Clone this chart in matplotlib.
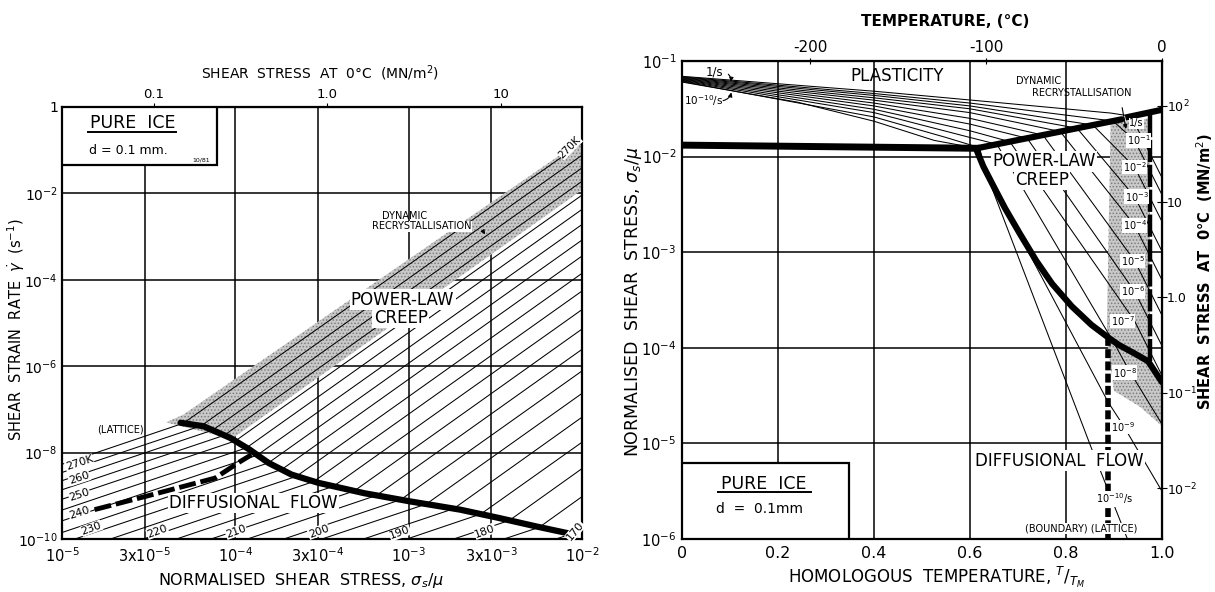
import numpy as np
import matplotlib.pyplot as plt
from matplotlib.patches import Rectangle, Polygon
from matplotlib.ticker import NullLocator

plt.rcParams['font.family'] = ['DejaVu Sans']
plt.rcParams['mathtext.fontset'] = 'dejavusans'
plt.rcParams['hatch.linewidth'] = 0.7

MU = 2950.0   # shear modulus of ice, MN/m^2 (stress at 0 C = mu * sigma/mu)
TM = 273.0    # melting point, K

# ---------------- left map: strain rate vs normalised stress (log10 values) ----------------
iso_T = [270, 265, 260, 255, 250, 245, 240, 235, 230, 225, 220,
         215, 210, 205, 200, 195, 190, 185, 180, 175, 170]
# where each isotherm leaves the frame in the diffusional field
iso_lo_s = [-5, -5, -5, -5, -5, -5, -5, -5, -4.925, -4.72, -4.53,
            -4.34, -4.14, -3.93, -3.72, -3.50, -3.26, -3.01, -2.74, -2.45, -2.15]
iso_lo_r = [-8.27, -8.46, -8.65, -8.86, -9.08, -9.33, -9.58, -9.85, -10, -10, -10,
            -10, -10, -10, -10, -10, -10, -10, -10, -10, -10]
# knee on the power-law / diffusional-flow boundary
iso_kn_s = [-4.30, -4.197, -4.131, -4.064, -4.0, -3.936, -3.874, -3.81, -3.732, -3.648, -3.548,
            -3.434, -3.315, -3.185, -3.046, -2.898, -2.741, -2.583, -2.419, -2.247, -2.06]
iso_kn_r = [-7.32, -7.38, -7.48, -7.60, -7.73, -7.89, -8.06, -8.24, -8.39, -8.55, -8.67,
            -8.78, -8.89, -8.99, -9.09, -9.19, -9.30, -9.42, -9.57, -9.73, -9.88]
# value at the right edge (sigma/mu = 1e-2)
iso_hi_r = [-0.83, -1.115, -1.41, -1.72, -2.04, -2.37, -2.72, -3.08, -3.45, -3.85, -4.26,
            -4.69, -5.14, -5.61, -6.11, -6.63, -7.18, -7.76, -8.37, -9.02, -9.71]

# thick boundary power-law creep / diffusional flow
bnd_s = [-4.316, -4.183, -4.029, -3.918, -3.808, -3.675, -3.521, -3.256, -2.991, -2.704, -2.483, -2.263, -2.042]
bnd_r = [-7.31, -7.39, -7.66, -7.93, -8.24, -8.51, -8.70, -8.94, -9.13, -9.32, -9.51, -9.71, -9.90]
# dashed boundary (lattice / boundary diffusion)
dash_s = [-4.812, -4.514, -4.117, -3.985, -3.907]
dash_r = [-9.32, -9.01, -8.59, -8.24, -8.05]
# dynamic recrystallisation band
drx_s = [-4.40, -4.30, -2.0, -2.0, -4.02, -4.25]
drx_r = [-7.30, -7.12, -0.76, -1.92, -7.68, -7.45]

lab_left_T = ['270K', '260', '250', '240']
lab_left_r = [-8.24, -8.59, -8.97, -9.40]
lab_bot_T = ['230', '220', '210', '200', '190', '180', '170']
lab_bot_s = [-4.83, -4.45, -3.996, -3.52, -3.05, -2.56, -2.04]
lab_bot_r = [-9.75, -9.82, -9.82, -9.82, -9.86, -9.82, -9.82]

# ---------------- right map: sigma/mu vs T/TM ----------------
rate_labels = ['1/s', '10$^{-1}$', '10$^{-2}$', '10$^{-3}$', '10$^{-4}$', '10$^{-5}$',
               '10$^{-6}$', '10$^{-7}$', '10$^{-8}$', '10$^{-9}$', '10$^{-10}$/s']
# strain-rate contours, (T/TM, log10 sigma/mu) points
rate_x = [
    [0, 0.4, 0.648, 0.894, 0.926, 0.943, 1.0],
    [0, 0.4, 0.6, 0.898, 0.943, 1.0],
    [0, 0.4, 0.6, 0.856, 0.943, 1.0],
    [0, 0.4, 0.6, 0.823, 0.943, 1.0],
    [0, 0.4, 0.6, 0.788, 0.943, 1.0],
    [0, 0.4, 0.6, 0.752, 0.943, 1.0],
    [0, 0.4, 0.6, 0.719, 0.943, 1.0],
    [0, 0.4, 0.6, 0.683, 0.943, 1.0],
    [0, 0.4, 0.6, 0.656, 0.90, 0.933, 1.0],
    [0, 0.4, 0.55, 0.62, 0.631, 0.888, 0.919, 1.0],
    [0, 0.24, 0.40, 0.525, 0.614, 0.853, 0.928],
]
rate_y = [
    [-1.16, -1.316, -1.43, -1.545, -1.57, -1.65, -2.22],
    [-1.166, -1.34, -1.44, -1.628, -1.83, -2.40],
    [-1.172, -1.36, -1.47, -1.67, -2.11, -2.68],
    [-1.178, -1.385, -1.50, -1.703, -2.42, -2.99],
    [-1.184, -1.41, -1.54, -1.738, -2.72, -3.29],
    [-1.19, -1.44, -1.60, -1.775, -3.09, -3.66],
    [-1.196, -1.47, -1.66, -1.808, -3.41, -3.98],
    [-1.202, -1.505, -1.73, -1.844, -3.72, -4.29],
    [-1.208, -1.54, -1.80, -1.871, -3.95, -4.25, -4.80],
    [-1.214, -1.585, -1.80, -1.907, -2.14, -4.57, -4.81, -5.50],
    [-1.22, -1.43, -1.63, -1.83, -1.913, -5.05, -6.0],
]
rlab_x = [0.947, 0.951, 0.943, 0.947, 0.943, 0.939, 0.939, 0.918, 0.922, 0.918, 0.902]
rlab_y = [-1.65, -1.83, -2.11, -2.42, -2.72, -3.09, -3.41, -3.72, -4.26, -4.83, -5.58]

plast_x = [0.0, 0.614]
plast_y = [-1.88, -1.913]
top_x = [0.614, 0.916]
top_y = [-1.913, -1.61]
drx_top_x = [0.93, 1.0]
drx_top_y = [-1.585, -1.51]
plc_x = [0.614, 0.615, 0.628, 0.648, 0.673, 0.705, 0.738, 0.771, 0.812, 0.853, 0.890, 0.910, 0.943, 0.971, 1.0]
plc_y = [-1.913, -1.947, -2.105, -2.30, -2.54, -2.816, -3.09, -3.33, -3.566, -3.76, -3.90, -3.97, -4.06, -4.14, -4.36]
band_x = [0.893, 0.975, 0.975, 1.0, 1.0, 0.955, 0.90, 0.885, 0.888]
band_y = [-1.65, -1.60, -4.13, -4.36, -4.82, -4.62, -4.45, -3.90, -3.0]


def p10(v):
    return np.power(10.0, np.asarray(v, dtype=float))


W, H = 1215, 592
fig = plt.figure(figsize=(W / 100, H / 100), dpi=100)
white = dict(facecolor='white', edgecolor='none', pad=1.0)
stipple = dict(facecolor='#c9c9c9', edgecolor='#7d7d7d', linewidth=0, hatch='.....', zorder=2)

# ================= left panel =================
axL = fig.add_axes([62 / W, 1 - 539 / H, 520 / W, 432 / H])
axL.set_xscale('log')
axL.set_yscale('log')
axL.set_xlim(1e-5, 1e-2)
axL.set_ylim(1e-10, 1)
for v in [3e-5, 1e-4, 3e-4, 1e-3, 3e-3]:
    axL.axvline(v, color='k', lw=1.1, zorder=1)
for v in [1e-2, 1e-4, 1e-6, 1e-8]:
    axL.axhline(v, color='k', lw=1.1, zorder=1)

axL.add_patch(Polygon(np.column_stack([p10(drx_s), p10(drx_r)]), closed=True, **stipple))
for i in range(len(iso_T)):
    xs = p10([iso_lo_s[i], iso_kn_s[i], -2])
    ys = p10([iso_lo_r[i], iso_kn_r[i], iso_hi_r[i]])
    axL.plot(xs, ys, color='k', lw=0.75, zorder=3)
axL.plot(p10(bnd_s), p10(bnd_r), color='k', lw=4.5, solid_capstyle='round', zorder=5)
axL.plot(p10(dash_s), p10(dash_r), color='k', lw=3.5, linestyle=(0, (3.5, 1.0)), zorder=5)

axL.add_patch(Rectangle((0, 0.8665), 0.298, 0.1335, transform=axL.transAxes,
                        facecolor='white', edgecolor='k', lw=1.6, zorder=6))
axL.text(0.137, 0.963, 'PURE  ICE', transform=axL.transAxes, ha='center', va='center',
         fontsize=12.5, zorder=7)
axL.plot([0.05, 0.219], [0.941, 0.941], transform=axL.transAxes, color='k', lw=1.4, zorder=7)
axL.text(0.127, 0.90, 'd = 0.1 mm.', transform=axL.transAxes, ha='center', va='center',
         fontsize=9, zorder=7)
axL.text(0.268, 0.877, '10/81', transform=axL.transAxes, ha='center', va='center',
         fontsize=4.5, zorder=7)

axL.text(10**-3.024, 10**-2.53, 'DYNAMIC', ha='center', va='center', fontsize=7, zorder=7)
axL.text(10**-2.925, 10**-2.76, 'RECRYSTALLISATION', ha='center', va='center',
         fontsize=7, zorder=7, bbox=dict(facecolor='white', edgecolor='none', pad=0.3))
axL.annotate('', xy=(10**-2.55, 10**-3.0), xytext=(10**-2.58, 10**-2.82),
             arrowprops=dict(arrowstyle='-|>', lw=0.8, color='k', mutation_scale=6), zorder=7)
axL.text(10**-3.035, 10**-4.46, 'POWER-LAW', ha='center', va='center', fontsize=12,
         zorder=7, bbox=white)
axL.text(10**-3.046, 10**-4.88, 'CREEP', ha='center', va='center', fontsize=12,
         zorder=7, bbox=white)
axL.text(10**-4.66, 10**-7.47, '(LATTICE)', ha='center', va='center', fontsize=7, zorder=7)
axL.text(10**-3.896, 10**-9.17, 'DIFFUSIONAL  FLOW', ha='center', va='center', fontsize=12,
         zorder=7, bbox=white)
for t, r in zip(lab_left_T, lab_left_r):
    axL.text(10**-4.90, 10**r, t, ha='center', va='center', fontsize=8, rotation=18,
             zorder=7, bbox=dict(facecolor='white', edgecolor='none', pad=0.2))
for t, s, r in zip(lab_bot_T, lab_bot_s, lab_bot_r):
    rot = 50 if t == '170' else 20
    axL.text(10**s, 10**r, t, ha='center', va='center', fontsize=8, rotation=rot,
             zorder=7, bbox=dict(facecolor='white', edgecolor='none', pad=0.2))
axL.text(10**-2.07, 10**-0.93, '270K', ha='center', va='center', fontsize=7.5,
         rotation=45, zorder=7, bbox=dict(facecolor='white', edgecolor='none', pad=0.2))

axL.set_xticks([1e-5, 3e-5, 1e-4, 3e-4, 1e-3, 3e-3, 1e-2],
               ['$10^{-5}$', r'3x$10^{-5}$', '$10^{-4}$', r'3x$10^{-4}$', '$10^{-3}$',
                r'3x$10^{-3}$', '$10^{-2}$'])
axL.set_yticks([1e-10, 1e-8, 1e-6, 1e-4, 1e-2, 1],
               ['$10^{-10}$', '$10^{-8}$', '$10^{-6}$', '$10^{-4}$', '$10^{-2}$', '1'])
axL.xaxis.set_minor_locator(NullLocator())
axL.yaxis.set_minor_locator(NullLocator())
axL.tick_params(axis='x', length=0, labelsize=10.5, pad=5)
axL.tick_params(axis='y', length=0, labelsize=10, pad=3)
for sp in axL.spines.values():
    sp.set_linewidth(1.6)

topL = axL.secondary_xaxis('top', functions=(lambda s: s * MU, lambda t: t / MU))
topL.set_xticks([0.1, 1.0, 10.0], ['0.1', '1.0', '10'])
topL.xaxis.set_minor_locator(NullLocator())
topL.tick_params(length=3, labelsize=9.5, pad=1)

fig.text(320 / W, 1 - 73 / H, 'SHEAR  STRESS  AT  0°C  (MN/m$^2$)', ha='center', va='center',
         fontsize=10)
fig.text(301 / W, 1 - 580 / H, r'NORMALISED  SHEAR  STRESS, $\sigma_s/\mu$', ha='center',
         va='center', fontsize=11.5)
fig.text(16 / W, 1 - 330 / H, r'SHEAR  STRAIN  RATE  $\dot{\gamma}$  (s$^{-1}$)', ha='center',
         va='center', rotation=90, fontsize=10.5)

# ================= right panel =================
axR = fig.add_axes([682 / W, 1 - 539 / H, 480 / W, 478 / H])
axR.set_yscale('log')
axR.set_xlim(0, 1)
axR.set_ylim(1e-6, 1e-1)
for v in [0.2, 0.4, 0.6, 0.8]:
    axR.axvline(v, color='k', lw=1.1, zorder=1)
for v in [1e-2, 1e-3, 1e-4, 1e-5]:
    axR.axhline(v, color='k', lw=1.1, zorder=1)

axR.add_patch(Polygon(np.column_stack([band_x, p10(band_y)]), closed=True, **stipple))
for xs, ys in zip(rate_x, rate_y):
    axR.plot(xs, p10(ys), color='k', lw=0.75, zorder=3)
axR.plot(plast_x, p10(plast_y), color='k', lw=5, zorder=5)
axR.plot(top_x, p10(top_y), color='k', lw=4.5, solid_capstyle='round', zorder=5)
axR.plot(drx_top_x, p10(drx_top_y), color='k', lw=4.5, zorder=5)
axR.plot(plc_x, p10(plc_y), color='k', lw=4.5, solid_capstyle='round', zorder=5)
axR.plot([0.888, 0.888], p10([-3.89, -6.0]), color='k', lw=4, linestyle=(0, (1.6, 0.6)), zorder=5)
axR.plot([0.975, 0.975], p10([-1.56, -4.14]), color='k', lw=3.2, linestyle=(0, (5, 0.6)), zorder=5)

for t, x, y in zip(rate_labels, rlab_x, rlab_y):
    axR.text(x, 10**y, t, ha='center', va='center', fontsize=7, zorder=7,
             bbox=dict(facecolor='white', edgecolor='none', pad=0.3))

axR.add_patch(Rectangle((0, 0), 0.347, 0.16, transform=axR.transAxes,
                        facecolor='white', edgecolor='k', lw=1.6, zorder=6))
axR.text(0.17, 0.116, 'PURE  ICE', transform=axR.transAxes, ha='center', va='center',
         fontsize=12.5, zorder=7)
axR.plot([0.074, 0.268], [0.098, 0.098], transform=axR.transAxes, color='k', lw=1.4, zorder=7)
axR.text(0.161, 0.062, 'd  =  0.1mm', transform=axR.transAxes, ha='center', va='center',
         fontsize=10, zorder=7)

axR.text(0.449, 10**-1.16, 'PLASTICITY', ha='center', va='center', fontsize=12, zorder=7)
axR.text(0.742, 10**-1.205, 'DYNAMIC', ha='center', va='center', fontsize=7, zorder=7)
axR.text(0.832, 10**-1.336, 'RECRYSTALLISATION', ha='center', va='center', fontsize=7, zorder=7)
axR.annotate('', xy=(0.926, 10**-1.74), xytext=(0.916, 10**-1.46),
             arrowprops=dict(arrowstyle='-|>', lw=0.8, color='k', mutation_scale=6), zorder=7)
axR.text(0.754, 10**-2.05, 'POWER-LAW', ha='center', va='center', fontsize=12,
         zorder=7, bbox=white)
axR.text(0.75, 10**-2.24, 'CREEP', ha='center', va='center', fontsize=12, zorder=7, bbox=white)
axR.text(0.787, 10**-5.18, 'DIFFUSIONAL  FLOW', ha='center', va='center', fontsize=12,
         zorder=7, bbox=white)
axR.text(0.832, 10**-5.89, '(BOUNDARY) (LATTICE)', ha='center', va='center', fontsize=7, zorder=7,
         bbox=dict(facecolor='white', edgecolor='none', pad=0.3))
axR.text(0.067, 10**-1.11, '1/s', ha='center', va='center', fontsize=8.5, zorder=7)
axR.text(0.045, 10**-1.41, '10$^{-10}$/s', ha='center', va='center', fontsize=7.5, zorder=7)
axR.annotate('', xy=(0.10, 10**-1.245), xytext=(0.092, 10**-1.12),
             arrowprops=dict(arrowstyle='-|>', lw=0.8, color='k', mutation_scale=6,
                             connectionstyle='arc3,rad=-0.4'), zorder=7)
axR.annotate('', xy=(0.104, 10**-1.30), xytext=(0.08, 10**-1.42),
             arrowprops=dict(arrowstyle='-|>', lw=0.8, color='k', mutation_scale=6,
                             connectionstyle='arc3,rad=0.4'), zorder=7)

axR.set_xticks([0, 0.2, 0.4, 0.6, 0.8, 1.0], ['0', '0.2', '0.4', '0.6', '0.8', '1.0'])
axR.set_yticks([1e-6, 1e-5, 1e-4, 1e-3, 1e-2, 1e-1],
               ['$10^{-6}$', '$10^{-5}$', '$10^{-4}$', '$10^{-3}$', '$10^{-2}$', '$10^{-1}$'])
axR.yaxis.set_minor_locator(NullLocator())
axR.tick_params(axis='x', length=0, labelsize=11.5, pad=5)
axR.tick_params(axis='y', length=0, labelsize=10.5, pad=4)
for sp in axR.spines.values():
    sp.set_linewidth(1.6)

topR = axR.secondary_xaxis('top', functions=(lambda x: x * TM - TM, lambda t: (t + TM) / TM))
topR.set_xticks([-200, -100, 0], ['-200', '-100', '0'])
topR.tick_params(length=4, direction='inout', labelsize=11, pad=2)

rightR = axR.secondary_yaxis('right', functions=(lambda s: s * MU, lambda t: t / MU))
rightR.set_yticks([1e-2, 1e-1, 1.0, 10.0, 100.0], ['$10^{-2}$', '$10^{-1}$', '1.0', '10', '$10^2$'])
rightR.yaxis.set_minor_locator(NullLocator())
rightR.tick_params(length=7, direction='inout', labelsize=9, pad=0)

fig.text(945 / W, 1 - 22 / H, 'TEMPERATURE, (°C)', ha='center', va='center', fontsize=11,
         fontweight='bold')
fig.text(937 / W, 1 - 577 / H, r'HOMOLOGOUS  TEMPERATURE, $^{T}/_{T_M}$', ha='center',
         va='center', fontsize=12)
fig.text(633 / W, 1 - 302 / H, r'NORMALISED  SHEAR  STRESS, $\sigma_s/\mu$', ha='center',
         va='center', rotation=90, fontsize=12.5)
fig.text(1205 / W, 1 - 272 / H, 'SHEAR  STRESS  AT  0°C  (MN/m$^2$)', ha='center', va='center',
         rotation=90, fontsize=10.5, fontweight='bold')

fig.savefig('out.png', dpi=100, facecolor='white')
